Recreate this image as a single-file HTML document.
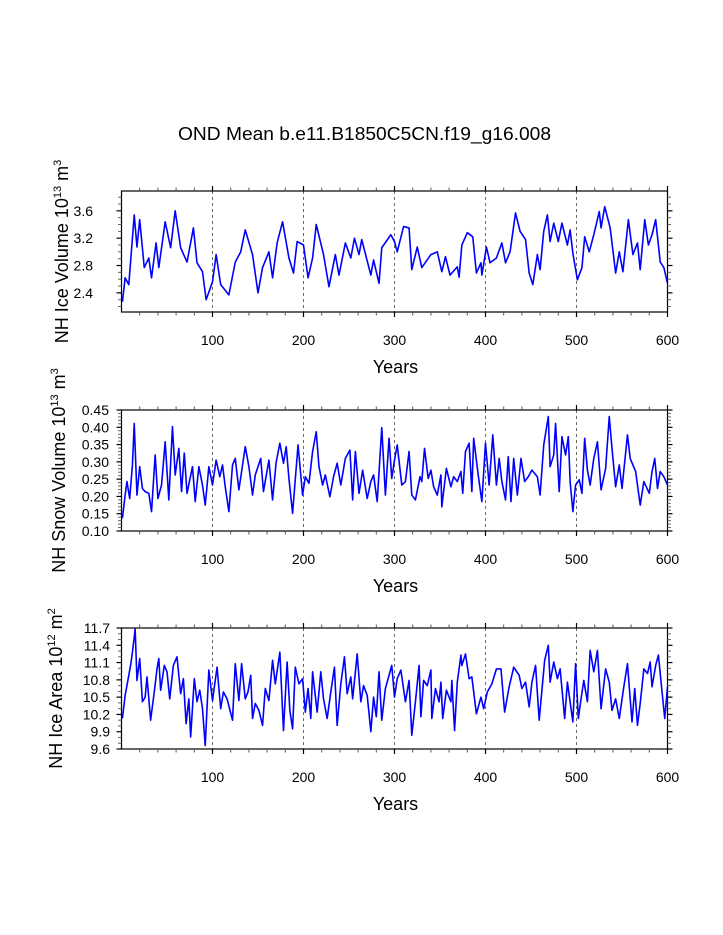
<!DOCTYPE html>
<html><head><meta charset="utf-8">
<style>
html,body{margin:0;padding:0;background:#fff;}
svg{display:block;font-family:"Liberation Sans",Arial,sans-serif;}
</style></head>
<body>
<svg id="chart" width="723" height="935" viewBox="0 0 723 935" xmlns="http://www.w3.org/2000/svg">
<rect width="723" height="935" fill="#fff"/>
<text x="364.5" y="140" font-size="18" text-anchor="middle" textLength="373" lengthAdjust="spacingAndGlyphs">OND Mean b.e11.B1850C5CN.f19_g16.008</text>
</svg>
<script>
// ---- data ----
const xTicks = [100,200,300,400,500,600];
const iceVolYears = [1,4,8,14,17,20,25,30,33,38,41,48,54,59,65,72,79,83,89,93,100,104,109,118,125,131,136,144,150,155,162,166,171,177,184,189,193,200,205,210,214,222,228,235,239,246,252,256,261,264,274,277,283,286,296,300,303,310,316,319,325,330,340,347,352,356,361,369,371,374,380,386,390,395,396,401,405,412,418,422,427,433,438,444,448,452,457,460,464,468,471,475,480,484,490,493,496,501,506,509,514,519,525,527,531,537,543,547,551,557,562,567,570,575,579,583,587,592,596,600];
const iceVolValues = [2.27,2.62,2.52,3.54,3.07,3.47,2.77,2.91,2.62,3.13,2.77,3.44,3.06,3.6,3.06,2.85,3.35,2.84,2.71,2.30,2.56,2.96,2.52,2.37,2.85,3.0,3.32,2.96,2.40,2.77,3.0,2.62,3.13,3.44,2.91,2.69,3.15,3.10,2.62,2.91,3.40,2.96,2.49,2.96,2.66,3.13,2.91,3.20,2.96,3.18,2.66,2.88,2.54,3.06,3.25,3.15,3.0,3.37,3.35,2.74,3.07,2.77,2.96,3.0,2.71,2.93,2.66,2.78,2.63,3.10,3.28,3.22,2.69,2.84,2.66,3.07,2.84,2.91,3.13,2.84,3.0,3.57,3.30,3.18,2.69,2.52,2.96,2.74,3.30,3.54,3.15,3.42,3.15,3.42,3.10,3.32,2.98,2.59,2.77,3.22,3.0,3.25,3.59,3.35,3.66,3.35,2.69,3.0,2.71,3.47,2.96,3.13,2.74,3.47,3.10,3.25,3.47,2.85,2.77,2.54];
const snowYears = [1,4,6,9,12,14,17,20,23,26,30,33,37,40,44,48,52,56,59,63,66,69,72,78,81,85,89,92,96,100,104,108,111,114,118,122,125,129,136,140,144,147,153,156,162,166,170,174,178,181,184,188,194,199,202,206,210,214,217,221,224,229,233,237,241,246,251,254,257,261,265,270,274,277,281,286,290,294,297,300,303,308,312,316,319,323,328,330,333,337,340,343,347,351,352,357,362,365,369,373,375,378,382,385,387,392,396,400,404,408,412,415,418,422,425,428,431,435,439,443,447,451,457,460,464,469,471,475,477,481,484,488,491,493,496,499,503,506,509,512,515,519,523,527,532,536,539,543,547,550,556,559,565,570,574,580,583,586,589,592,596,600];
const snowValues = [0.137,0.204,0.243,0.194,0.291,0.411,0.204,0.286,0.223,0.214,0.209,0.156,0.32,0.194,0.233,0.358,0.19,0.402,0.262,0.339,0.214,0.325,0.209,0.286,0.185,0.286,0.233,0.175,0.286,0.233,0.305,0.257,0.291,0.228,0.156,0.291,0.31,0.219,0.344,0.286,0.204,0.262,0.31,0.214,0.305,0.19,0.3,0.354,0.296,0.344,0.252,0.151,0.349,0.204,0.257,0.238,0.33,0.387,0.286,0.233,0.262,0.199,0.257,0.296,0.233,0.31,0.334,0.19,0.33,0.209,0.276,0.194,0.243,0.262,0.185,0.399,0.204,0.368,0.252,0.305,0.349,0.233,0.243,0.33,0.204,0.19,0.257,0.243,0.339,0.252,0.276,0.228,0.204,0.262,0.17,0.281,0.228,0.257,0.243,0.272,0.209,0.33,0.354,0.214,0.368,0.262,0.185,0.354,0.233,0.378,0.233,0.31,0.243,0.19,0.315,0.185,0.31,0.204,0.31,0.243,0.257,0.276,0.257,0.204,0.349,0.431,0.286,0.32,0.411,0.214,0.373,0.32,0.373,0.243,0.156,0.233,0.248,0.209,0.368,0.276,0.233,0.31,0.358,0.219,0.281,0.431,0.339,0.228,0.291,0.223,0.378,0.31,0.272,0.175,0.243,0.209,0.272,0.31,0.223,0.272,0.257,0.233];
const areaYears = [1,4,7,10,12,15,17,20,23,26,28,32,36,39,41,43,47,50,53,57,61,65,68,71,74,76,80,83,86,89,92,96,100,105,109,112,116,122,125,129,132,136,139,142,144,147,151,155,158,162,166,169,174,178,182,185,188,191,195,199,202,205,208,210,215,219,222,226,230,234,237,241,245,248,252,254,259,263,266,270,274,277,280,283,286,290,294,297,300,303,307,312,316,319,323,327,329,332,336,340,341,345,349,351,353,357,362,363,366,369,373,374,378,382,385,390,395,398,402,407,412,417,421,426,431,437,440,444,448,451,455,459,462,465,469,471,475,479,482,487,490,496,499,502,505,508,512,515,519,523,527,532,536,539,543,547,552,556,561,564,567,570,574,578,581,583,587,590,594,597,600];
const areaValues = [10.13,10.53,10.79,11.05,11.28,11.68,10.79,11.17,10.42,10.50,10.85,10.10,10.59,10.99,11.17,10.62,11.05,10.94,10.47,11.05,11.20,10.56,10.82,10.04,10.47,9.81,10.82,10.42,10.62,10.30,9.66,10.97,10.44,11.02,10.30,10.59,10.47,10.10,11.08,10.44,11.08,10.47,10.59,10.88,10.13,10.39,10.27,10.01,10.65,10.44,11.14,10.73,11.28,9.92,11.11,10.27,9.95,11.02,10.73,10.82,10.24,10.65,10.13,10.94,10.24,10.94,10.47,10.13,10.59,11.02,10.01,10.73,11.20,10.56,10.85,10.47,11.25,10.42,10.70,10.53,9.90,10.50,10.16,10.94,10.10,10.65,10.88,11.05,10.50,10.82,10.97,10.42,10.79,9.84,10.42,11.05,10.16,10.79,10.70,10.97,10.13,10.65,10.42,10.76,10.13,10.62,10.42,10.79,9.92,10.76,11.23,11.05,11.25,10.82,10.85,10.21,10.50,10.30,10.59,10.73,10.99,10.99,10.24,10.68,11.02,10.88,10.65,10.76,10.33,10.76,11.05,10.10,10.62,11.14,11.40,10.76,11.11,10.82,10.99,10.13,10.76,10.07,11.08,10.13,10.47,10.79,10.42,11.31,10.94,11.31,10.30,10.99,10.76,10.27,10.47,10.13,10.68,11.08,10.07,10.65,10.01,10.39,10.99,10.91,11.11,10.68,11.05,11.23,10.59,10.13,10.68];
const iceVolTickLabels = ["2.4","2.8","3.2","3.6"];
const snowTickLabels = ["0.10","0.15","0.20","0.25","0.30","0.35","0.40","0.45"];
const areaTickLabels = ["9.6","9.9","10.2","10.5","10.8","11.1","11.4","11.7"];

const NS = "http://www.w3.org/2000/svg";
const svg = document.getElementById('chart');
function mk(tag, attrs, parent){
  const e = document.createElementNS(NS, tag);
  for (const k in attrs) e.setAttribute(k, attrs[k]);
  (parent||svg).appendChild(e);
  return e;
}
const L = 121.5, R = 667.5, X0 = 0, X1 = 600;
function xs(v){ return L + (v - X0) / (X1 - X0) * (R - L); }

function panel(cfg){
  const g = mk('g', {});
  
  
  const T = cfg.top, B = cfg.bottom;
  const ys = v => B - (v - cfg.ymin) / (cfg.ymax - cfg.ymin) * (B - T);
  // grid
  xTicks.forEach(t => {
    if (t >= 600) return;
    const gl = mk('line', {x1:xs(t), x2:xs(t), y1:T, y2:B, stroke:'#444', 'stroke-width':0.8, 'stroke-dasharray':'3,3'}, g);
    
    
  });
  // series
  const pts = cfg.years.map((y,i) => xs(y).toFixed(2) + ',' + ys(cfg.values[i]).toFixed(2)).join(' ');
  const pl = mk('polyline', {points:pts, fill:'none', stroke:'#0000ff', 'stroke-width':1.6, 'stroke-linejoin':'round'}, g);
  
  
  // frame
  const fr = mk('rect', {x:L, y:T, width:R-L, height:B-T, fill:'none', stroke:'#000', 'stroke-width':1.2}, g);
  
  
  // x ticks (major & minor), top and bottom, outward
  for (let v = 20; v <= 600; v += 20) {
    const major = v % 100 === 0;
    const len = major ? 5 : 3.5;
    mk('line', {x1:xs(v), x2:xs(v), y1:B, y2:B+len, stroke:major?'#000':'#555', 'stroke-width':major?1.2:1}, g);
    mk('line', {x1:xs(v), x2:xs(v), y1:T, y2:T-len, stroke:major?'#000':'#555', 'stroke-width':major?1.2:1}, g);
  }
  xTicks.forEach(t => {
    const tl = mk('text', {x:xs(t), y:B+33, 'font-size':14, 'text-anchor':'middle'}, g);
    tl.textContent = t;
    
    
  });
  const xt = mk('text', {x:(L+R)/2+1, y:B+61, 'font-size':18, 'text-anchor':'middle'}, g);
  xt.textContent = 'Years';
  
  
  // y ticks
  const nMinor = Math.round((cfg.ymax - cfg.ymin) / cfg.minor);
  for (let i = 0; i <= nMinor + 40; i++) {
    const v = cfg.minorStart + i * cfg.minor;
    if (v > cfg.ymax + 1e-6) break;
    if (v < cfg.ymin - 1e-6) continue;
    const y = ys(v);
    const major = cfg.tickLabels.some(s => Math.abs(parseFloat(s) - v) < 1e-6);
    const len = major ? 5 : 3.5;
    mk('line', {x1:L, x2:L-len, y1:y, y2:y, stroke:major?'#000':'#666', 'stroke-width':major?1.2:1}, g);
    mk('line', {x1:R, x2:R+len, y1:y, y2:y, stroke:major?'#000':'#666', 'stroke-width':major?1.2:1}, g);
  }
  cfg.tickLabels.forEach(s => {
    const tl = mk('text', {x:cfg.labelX, y:ys(parseFloat(s))+5, 'font-size':14, 'text-anchor':'end'}, g);
    tl.textContent = s;
    
    
  });
  // y title
  const cy = (T + B) / 2;
  const yt = mk('text', {x:0, y:0, 'font-size':18, 'text-anchor':'middle', transform:'translate(' + cfg.titleX + ',' + cy + ') rotate(-90)'}, g);
  
  
  const parts = [[cfg.title + ' 10', 0, 18], [cfg.exp1, -7, 11], [' m', 7, 18], [cfg.exp2, -7, 11]];
  parts.forEach(p => {
    const ts = mk('tspan', {dy:p[1], 'font-size':p[2]}, yt);
    ts.textContent = p[0];
  });
}

panel({name:'ice-volume', top:191, bottom:312, ymin:2.12, ymax:3.89, minor:0.1, minorStart:2.2,
  tickLabels:iceVolTickLabels, years:iceVolYears, values:iceVolValues, labelX:93, titleX:68,
  title:'NH Ice Volume', exp1:'13', exp2:'3'});
panel({name:'snow-volume', top:410, bottom:531, ymin:0.10, ymax:0.45, minor:0.01, minorStart:0.10,
  tickLabels:snowTickLabels, years:snowYears, values:snowValues, labelX:109, titleX:65,
  title:'NH Snow Volume', exp1:'13', exp2:'3'});
panel({name:'ice-area', top:628, bottom:749, ymin:9.6, ymax:11.7, minor:0.1, minorStart:9.6,
  tickLabels:areaTickLabels, years:areaYears, values:areaValues, labelX:110, titleX:62,
  title:'NH Ice Area', exp1:'12', exp2:'2'});
</script>
</body></html>
